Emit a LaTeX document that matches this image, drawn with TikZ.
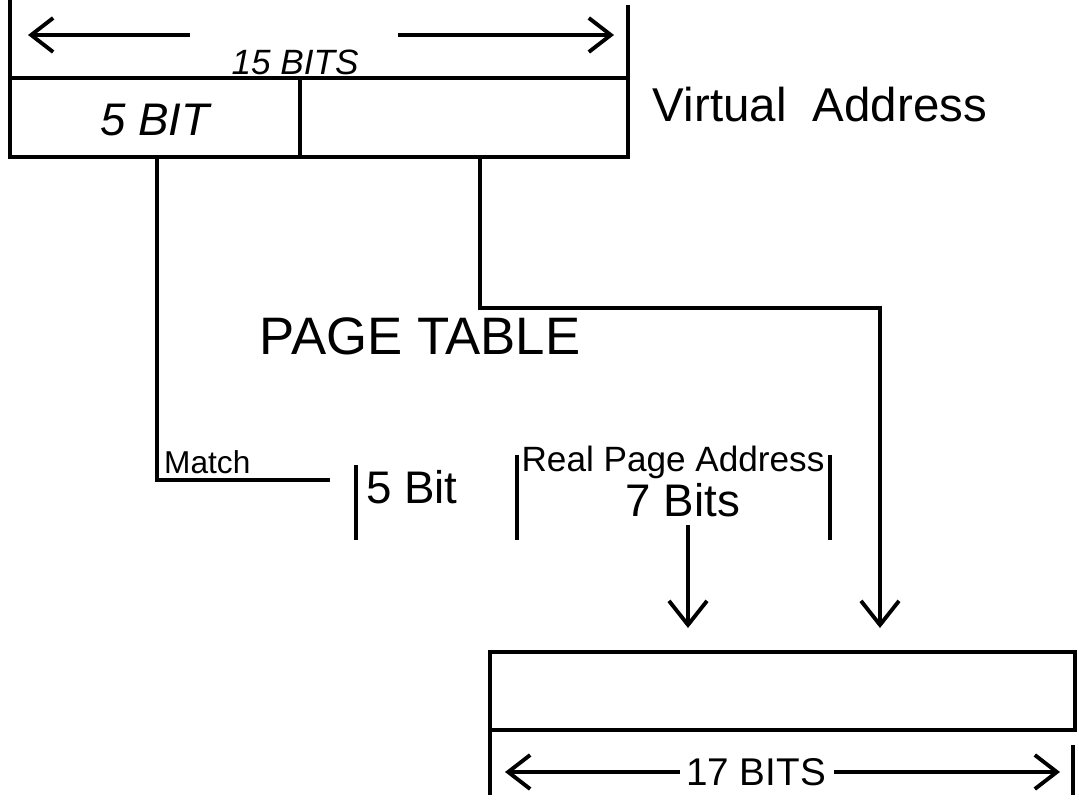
\documentclass[tikz,border=0pt]{standalone}
\usepackage{fontspec}
\setmainfont{Liberation Sans}
\usepackage{tikz}
\usetikzlibrary{arrows.meta,positioning,calc}

\begin{document}
\begin{tikzpicture}[
    wire/.style={line width=1.1pt},
    dimline/.style={line width=1.1pt, -{Straight Barb[length=2.2mm,width=3.4mm]}},
    feed/.style={line width=1.1pt, -{Straight Barb[length=2.4mm,width=3.8mm]}},
    lbl/.style={inner sep=1pt, font=\fontsize{12}{14}\selectfont},
]
    \useasboundingbox (0,0) rectangle (10.79,-8.03);

    % virtual address register
    \draw[wire] (0.10,-0.78) rectangle (6.28,-1.57);
    \draw[wire] (3.00,-0.78) -- (3.00,-1.57);
    \coordinate (vtl) at (0.10,0);
    \coordinate (vtr) at (6.28,-0.05);
    \draw[wire] (vtl) -- (0.10,-0.78);
    \draw[wire] (vtr) -- (6.28,-0.80);
    \node[lbl, font=\itshape\fontsize{13}{15}\selectfont] (vpage) at (1.55,-1.20) {5 BIT};
    \node[lbl, font=\itshape\fontsize{10}{12}\selectfont] (vbits) at (2.95,-0.62) {15 BITS};
    \coordinate (vl1) at (1.90,-0.35);
    \coordinate (vl2) at (0.28,-0.35);
    \coordinate (vr1) at (3.98,-0.35);
    \coordinate (vr2) at (6.14,-0.35);
    \draw[dimline] (vl1) -- (vl2);
    \draw[dimline] (vr1) -- (vr2);
    \node[lbl, font=\fontsize{13.5}{15}\selectfont] (vaddr) at (8.20,-1.05) {Virtual\ \ Address};

    % page table
    \node[lbl, font=\fontsize{15}{18}\selectfont] (ptab) at (4.20,-3.36) {PAGE TABLE};
    \coordinate (c1) at (3.56,-4.65);
    \coordinate (c2) at (5.17,-4.55);
    \coordinate (c3) at (8.30,-4.55);
    \draw[wire] (c1) -- ++(0,-0.75);
    \draw[wire] (c2) -- ++(0,-0.85);
    \draw[wire] (c3) -- ++(0,-0.85);
    \node[lbl, font=\fontsize{13}{15}\selectfont] (pbits) at (4.12,-4.87) {5 Bit};
    \node[lbl, font=\fontsize{10}{12}\selectfont] (rpa) at (6.73,-4.62) {Real Page Address};
    \node[lbl, font=\fontsize{13}{15}\selectfont] (rbits) at (6.83,-5.00) {7 Bits};

    % match path
    \coordinate (mend) at (3.30,-4.80);
    \draw[wire] (1.57,-1.57) |- (mend);
    \node[lbl, font=\fontsize{9}{11}\selectfont, anchor=south west] (match) at (1.60,-4.78) {Match};

    % offset path
    \coordinate (otip) at (8.80,-6.28);
    \draw[feed] (4.80,-1.57) -- (4.80,-3.08) -| (otip);

    % real address register
    \draw[wire] (4.90,-6.52) rectangle (10.75,-7.30);
    \coordinate (ptip) at (6.88,-6.28);
    \draw[feed] (6.88,-5.25) -- (ptip);
    \coordinate (rbl) at (4.90,-7.95);
    \coordinate (rbr) at (10.73,-7.95);
    \draw[wire] (4.90,-7.30) -- (rbl);
    \draw[wire] (10.73,-7.45) -- (rbr);
    \node[lbl, font=\fontsize{11}{13}\selectfont] (rtot) at (7.56,-7.72) {17 BITS};
    \coordinate (rl1) at (6.80,-7.72);
    \coordinate (rl2) at (5.05,-7.72);
    \coordinate (rr1) at (8.34,-7.72);
    \coordinate (rr2) at (10.60,-7.72);
    \draw[dimline] (rl1) -- (rl2);
    \draw[dimline] (rr1) -- (rr2);
\end{tikzpicture}
\end{document}
